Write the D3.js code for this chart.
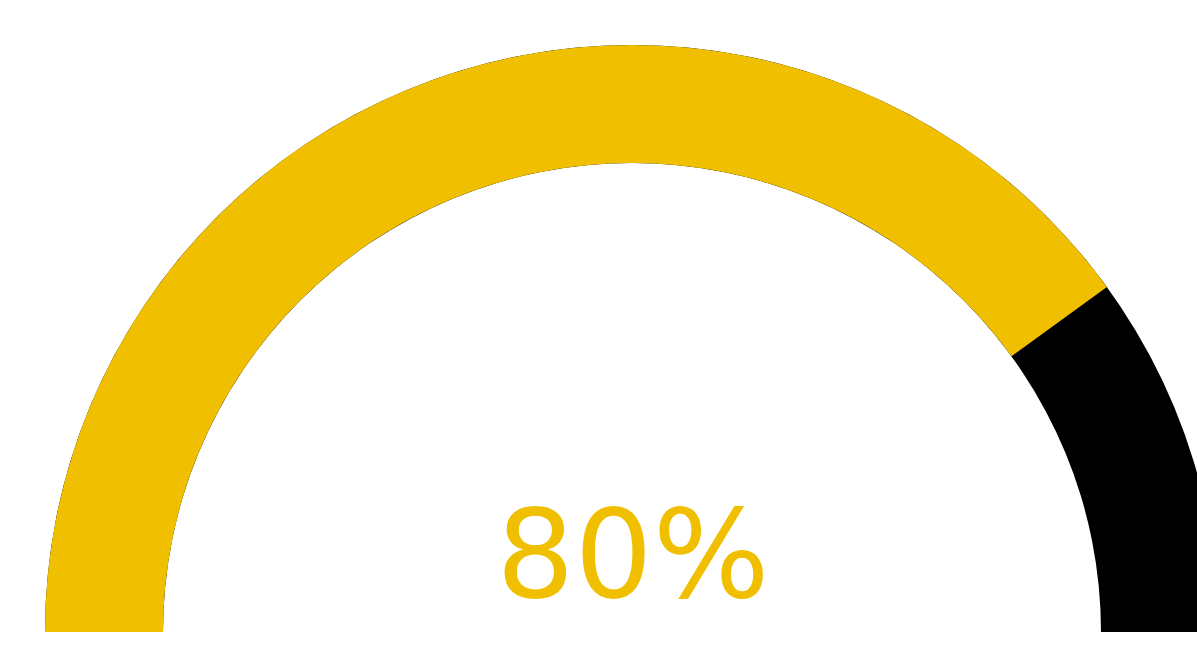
<!DOCTYPE html>
<html>
<head>
<meta charset="utf-8">
<script src="https://cdn.jsdelivr.net/npm/d3@7"></script>
<style>
  html, body { margin: 0; padding: 0; background: #fff; overflow: hidden; }
</style>
</head>
<body>
<div id="chart"></div>
<script>
// gauge value (percent) and its label
const gaugeValue = [80];
const gaugeMax = [100];
const gaugeLabel = ["80%"];

const width = 1197, height = 647;
const cx = 632, cy = 632;
const outerR = 587, innerR = 469;

const svg = d3.select("#chart")
  .append("svg")
  .attr("width", width)
  .attr("height", height);

const g = svg.append("g")
  .attr("transform", `translate(${cx},${cy})`);

// value -> angle, left end to right end of the half circle
const angle = d3.scaleLinear()
  .domain([0, gaugeMax[0]])
  .range([-Math.PI / 2, Math.PI / 2]);

const arc = d3.arc()
  .innerRadius(innerR)
  .outerRadius(outerR);

// background track
g.append("path")
  .attr("d", arc({startAngle: angle(0), endAngle: angle(gaugeMax[0])}))
  .attr("fill", "#000");

// value arc
g.append("path")
  .attr("d", arc({startAngle: angle(0), endAngle: angle(gaugeValue[0])}))
  .attr("fill", "#f0bf00");

g.append("text")
  .attr("x", 1)
  .attr("y", -35)
  .attr("text-anchor", "middle")
  .style("font-family", "DejaVu Sans")
  .style("font-size", "123px")
  .style("fill", "#f0bf00")
  .text(gaugeLabel[0]);
</script>
</body>
</html>
